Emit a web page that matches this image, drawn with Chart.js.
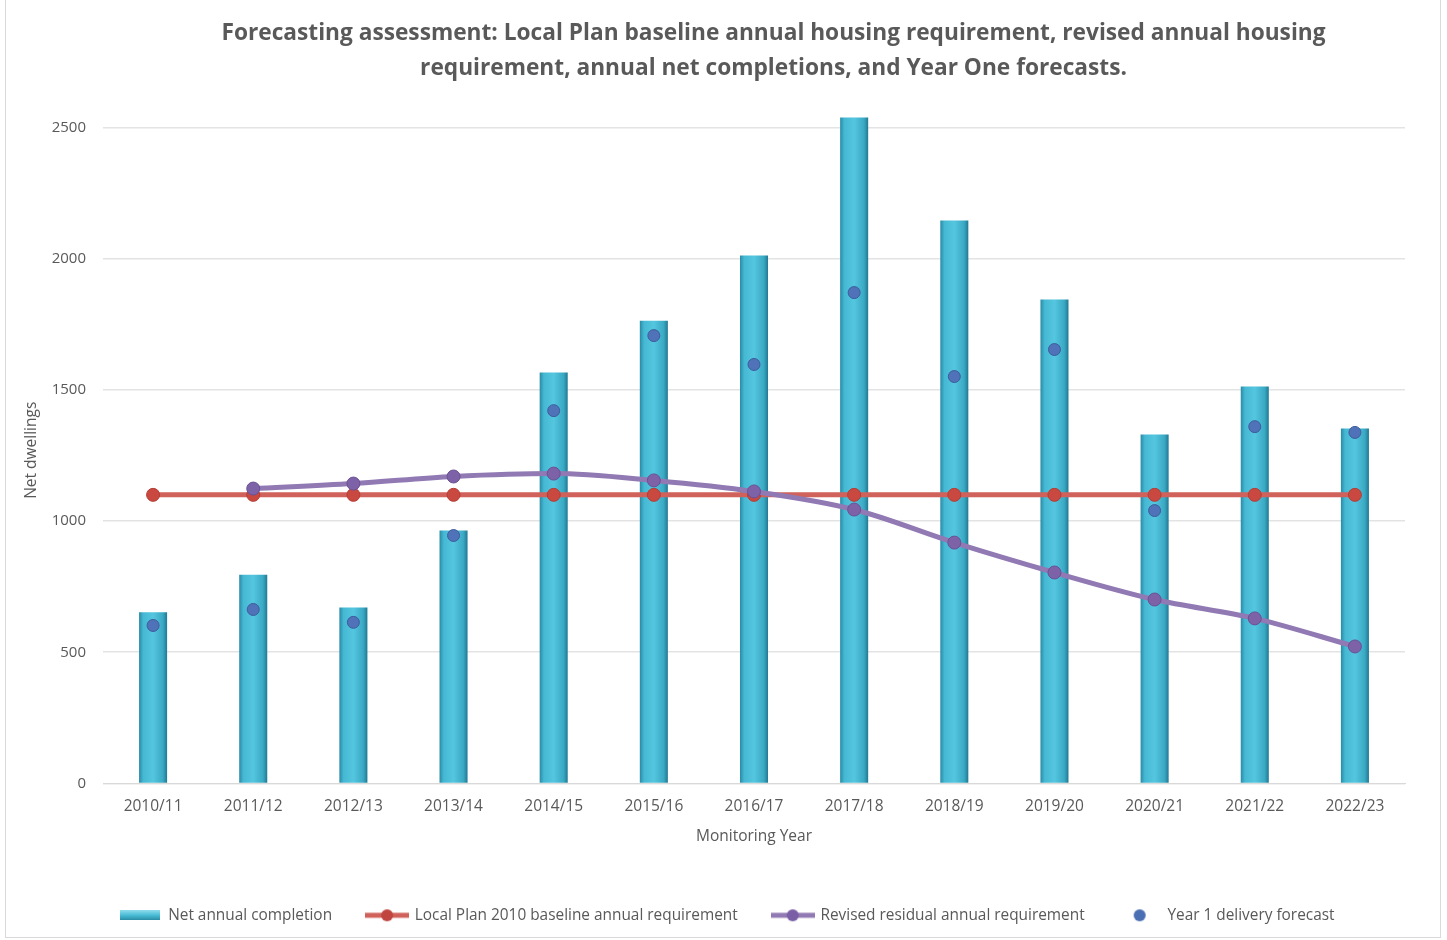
<!DOCTYPE html>
<html>
<head>
<meta charset="utf-8">
<script src="https://cdn.jsdelivr.net/npm/chart.js@4.4.1/dist/chart.umd.min.js"></script>
<style>
  html, body { margin: 0; padding: 0; background: #fff; }
  #wrap { position: absolute; left: 5px; top: 0; width: 1436px; height: 938px; border: 1px solid #d9d9d9; border-top: none; box-sizing: border-box; }
  canvas { display: block; }
</style>
</head>
<body>
<div id="wrap"><canvas id="canvas" width="1436" height="938"></canvas></div>
<script>
const years = ['2010/11', '2011/12', '2012/13', '2013/14', '2014/15', '2015/16', '2016/17',
  '2017/18', '2018/19', '2019/20', '2020/21', '2021/22', '2022/23'];
const netCompletions = [652, 795, 671, 964, 1566, 1764, 2012, 2538, 2146, 1845, 1330, 1513, 1353];
const baseline = [1100, 1100, 1100, 1100, 1100, 1100, 1100, 1100, 1100, 1100, 1100, 1100, 1100];
const revised = [null, 1124, 1143, 1170, 1181, 1155, 1113, 1044, 918, 804, 701, 629, 522];
const forecast = [602, 663, 614, 945, 1421, 1707, 1597, 1871, 1551, 1654, 1040, 1360, 1338];
const yTicks = [0, 500, 1000, 1500, 2000, 2500];

const grey = '#595959';
const font = "'Open Sans', 'Noto Sans', sans-serif";
const barPct = 0.28;

// legend swatches: line with a marker, like the spreadsheet legend
function swatch(color, dark, withLine) {
  const c = document.createElement('canvas');
  c.width = 44; c.height = 14;
  const g = c.getContext('2d');
  if (withLine) {
    g.strokeStyle = color; g.lineWidth = 5;
    g.beginPath(); g.moveTo(0, 7); g.lineTo(44, 7); g.stroke();
  }
  g.fillStyle = dark;
  g.beginPath(); g.arc(22, 7, 6, 0, Math.PI * 2); g.fill();
  return c;
}
function barSwatch() {
  const c = document.createElement('canvas');
  c.width = 40; c.height = 10;
  const g = c.getContext('2d');
  const gr = g.createLinearGradient(0, 0, 0, 10);
  gr.addColorStop(0, '#8fdcec'); gr.addColorStop(0.5, '#47bcd6'); gr.addColorStop(1, '#2a8aa3');
  g.fillStyle = gr; g.fillRect(0, 0, 40, 10);
  return c;
}
const legendIcons = [barSwatch(), swatch('#d0625b', '#c0453f', true), swatch('#9179b3', '#7a5ea6', true), swatch('#fff', '#4b6fb3', false)];

function barFill(c) {
  const chart = c.chart;
  const xs = chart.scales.x;
  if (!chart.chartArea || !xs) return '#47bcd6';
  const x = xs.getPixelForValue(c.dataIndex);
  const w = xs.width / years.length * barPct;
  const g = chart.ctx.createLinearGradient(x - w / 2, 0, x + w / 2, 0);
  g.addColorStop(0, '#2a8aa5');
  g.addColorStop(0.15, '#45b8d3');
  g.addColorStop(0.5, '#55c6df');
  g.addColorStop(0.85, '#3aa9c4');
  g.addColorStop(1, '#217892');
  return g;
}

// the title and legend in the source sit a little right of centre
const boxShift = {
  id: 'boxShift',
  afterLayout(chart) {
    if (chart.titleBlock) { chart.titleBlock.left += 62; chart.titleBlock.right += 62; }
    if (chart.legend) { chart.legend.left += 16; chart.legend.right += 16; }
  }
};

new Chart(document.getElementById('canvas'), {
  data: {
    labels: years,
    datasets: [
      { type: 'bar', label: 'Net annual completion', data: netCompletions, order: 4,
        backgroundColor: barFill, borderWidth: 0, barPercentage: barPct, categoryPercentage: 1 },
      { type: 'line', label: 'Local Plan 2010 baseline annual requirement', data: baseline, order: 3,
        borderColor: '#d0625b', borderWidth: 5, pointRadius: 6.5, pointBackgroundColor: '#c9483f',
        pointBorderColor: '#b53d36', pointBorderWidth: 1, tension: 0 },
      { type: 'line', label: 'Revised residual annual requirement', data: revised, order: 2,
        borderColor: '#9179b3', borderWidth: 5, pointRadius: 6.5, pointBackgroundColor: '#7d62a8',
        pointBorderColor: '#6a5194', pointBorderWidth: 1, cubicInterpolationMode: 'monotone' },
      { type: 'line', label: 'Year 1 delivery forecast', data: forecast, order: 1,
        showLine: false, pointRadius: 6, pointBackgroundColor: '#4f72b8',
        pointBorderColor: '#3d5d9c', pointBorderWidth: 1 }
    ]
  },
  options: {
    responsive: false,
    animation: false,
    layout: { padding: { left: 12, right: 37, top: 8, bottom: 5 } },
    plugins: {
      title: {
        display: true,
        text: ['Forecasting assessment: Local Plan baseline annual housing requirement, revised annual housing',
               'requirement, annual net completions, and Year One forecasts.'],
        color: grey, font: { family: font, size: 22.7, weight: 'bold', lineHeight: 1.5 },
        padding: { top: 9, bottom: 32 }
      },
      legend: {
        position: 'bottom',
        labels: {
          color: grey, font: { family: font, size: 15.4 }, usePointStyle: true, pointStyleWidth: 40,
          padding: 35,
          generateLabels: (chart) => chart.data.datasets.map((ds, i) => ({
            text: ds.label, datasetIndex: i, pointStyle: legendIcons[i],
            fontColor: grey, lineWidth: 0, strokeStyle: 'transparent', fillStyle: 'transparent'
          }))
        }
      },
      tooltip: { enabled: false }
    },
    scales: {
      x: {
        grid: { display: false },
        border: { color: '#d9d9d9' },
        ticks: { color: grey, font: { family: font, size: 15.5 }, padding: 6 },
        title: { display: true, text: 'Monitoring Year', color: grey, font: { family: font, size: 15.5 }, padding: { top: 5, bottom: 27 } }
      },
      y: {
        min: 0, max: 2540,
        afterBuildTicks: (s) => { s.ticks = yTicks.map(v => ({ value: v })); },
        afterFit: (s) => { s.width = 85; },
        grid: { color: '#e3e3e3', lineWidth: 1.5, drawTicks: false },
        border: { display: false },
        ticks: { color: grey, font: { family: font, size: 15 }, padding: 17, callback: (v) => String(v) },
        title: { display: true, text: 'Net dwellings', color: grey, font: { family: font, size: 15.5 }, padding: { bottom: 14 } }
      }
    }
  },
  plugins: [boxShift]
});
</script>
</body>
</html>
